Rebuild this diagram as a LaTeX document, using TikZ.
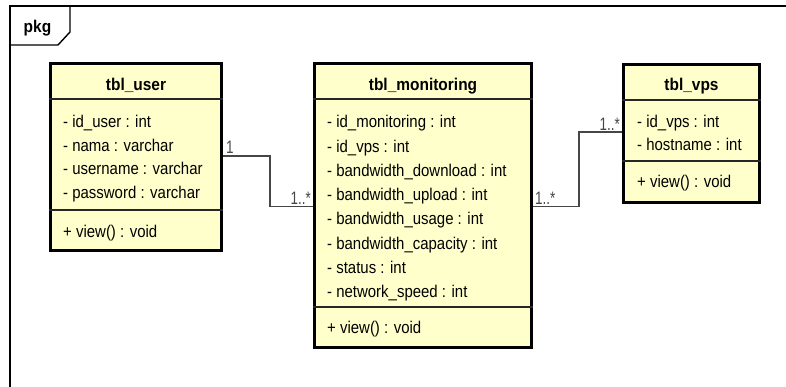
\documentclass[tikz,border=0pt]{standalone}
\usepackage{fontspec}
\setmainfont[FakeStretch=0.88]{Liberation Sans}
\newfontfamily\titlefont[FakeStretch=0.91]{Liberation Sans}
\newfontfamily\multfont[FakeStretch=0.75]{Liberation Sans}
\definecolor{classfill}{RGB}{255,255,204}
\definecolor{conncol}{RGB}{70,70,70}
\begin{document}
\begin{tikzpicture}[x=1pt,y=-1pt,
  classbox/.style={draw=black, line width=2.6pt, fill=classfill, inner sep=0pt, rectangle},
  divider/.style={draw=black!85, line width=1.5pt},
  attr/.style={anchor=base west, inner sep=0pt, font=\fontsize{17}{19}\selectfont},
  ctitle/.style={anchor=base, inner sep=0pt, font=\titlefont\bfseries\fontsize{17}{19}\selectfont},
  mult/.style={inner sep=0pt, font=\multfont\fontsize{18}{20}\selectfont, text=conncol},
  conn/.style={draw=conncol, line width=1.1pt},
  frameline/.style={draw=black, line width=1.4pt}]
\useasboundingbox (0,0) rectangle (786,387);
\fill[white] (0,0) rectangle (786,387);
% package frame
\draw[frameline] (10,387) -- (10,6) -- (786,6);
\draw[frameline] (70,6) -- (70,32) -- (58,45) -- (10,45);
\node[ctitle] (pkg) at (37.5,33) {pkg};

% class boxes
\node[classbox, minimum width=171.4pt, minimum height=187.4pt] (user) at (136,157) {};
\node[classbox, minimum width=217.4pt, minimum height=284.4pt] (mon) at (423,205.5) {};
\node[classbox, minimum width=136.4pt, minimum height=138.4pt] (vps) at (691.5,133.5) {};

% dividers
\draw[divider] (user.west |- 0,99) -- (user.east |- 0,99);
\draw[divider] (user.west |- 0,210) -- (user.east |- 0,210);
\draw[divider] (mon.west |- 0,99) -- (mon.east |- 0,99);
\draw[divider] (mon.west |- 0,307) -- (mon.east |- 0,307);
\draw[divider] (vps.west |- 0,100) -- (vps.east |- 0,100);
\draw[divider] (vps.west |- 0,161) -- (vps.east |- 0,161);

% titles
\node[ctitle] (userT) at (136,90.5) {tbl\_user};
\node[ctitle] (monT) at (423,90.5) {tbl\_monitoring};
\node[ctitle] (vpsT) at (691.5,91) {tbl\_vps};

% tbl_user
\node[attr] (u1) at (63,128) {- id\_user : int};
\node[attr] (u2) at (63,151.5) {- nama : varchar};
\node[attr] (u3) at (63,175) {- username : varchar};
\node[attr] (u4) at (63,198.5) {- password : varchar};
\node[attr] (u5) at (63,237.5) {+ view() : void};

% tbl_monitoring
\node[attr] (m1) at (327,128) {- id\_monitoring : int};
\node[attr] (m2) at (327,152.2) {- id\_vps : int};
\node[attr] (m3) at (327,176.4) {- bandwidth\_download : int};
\node[attr] (m4) at (327,200.6) {- bandwidth\_upload : int};
\node[attr] (m5) at (327,224.8) {- bandwidth\_usage : int};
\node[attr] (m6) at (327,249) {- bandwidth\_capacity : int};
\node[attr] (m7) at (327,273.2) {- status : int};
\node[attr] (m8) at (327,297.4) {- network\_speed : int};
\node[attr] (m9) at (327,333.5) {+ view() : void};

% tbl_vps
\node[attr] (v1) at (637,128) {- id\_vps : int};
\node[attr] (v2) at (637,151) {- hostname : int};
\node[attr] (v3) at (637,187.5) {+ view() : void};

% connectors
\draw[conn] (user.east |- 0,156) -- (270,156) |- (mon.west |- 0,206.5);
\draw[conn] (mon.east |- 0,206.5) -- (579,206.5) |- (vps.west |- 0,132);

% multiplicities
\node[mult, anchor=base west] (mu1) at (226,154) {1};
\node[mult, anchor=base east] (mu2) at (311,205) {1..*};
\node[mult, anchor=base west] (mu3) at (535,205) {1..*};
\node[mult, anchor=base east] (mu4) at (620,130.5) {1..*};
\end{tikzpicture}
\end{document}
